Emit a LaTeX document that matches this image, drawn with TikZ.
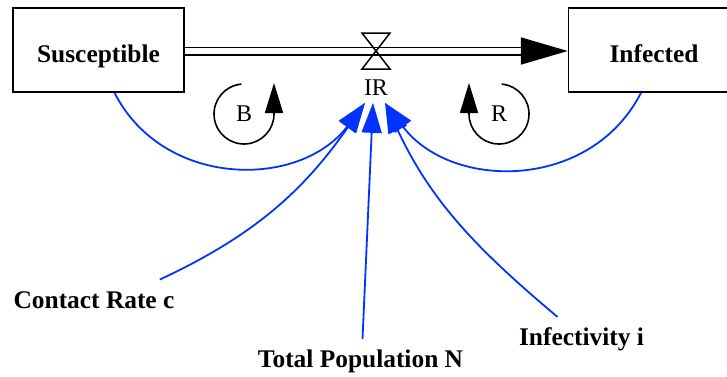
\documentclass[tikz,border=0pt]{standalone}
\usepackage{fontspec}
\setmainfont{Liberation Serif}
\usepackage{xcolor}
\usepackage{tikz}
\usetikzlibrary{positioning,arrows.meta}
\definecolor{linkblue}{RGB}{0,51,255}
\tikzset{
  stockbox/.style={draw, line width=0.75pt, minimum width=85.5pt, minimum height=42pt,
                   text height=12.5pt, text depth=0pt, font=\fontsize{12.7}{15}\selectfont\bfseries},
  varlabel/.style={font=\fontsize{12.7}{15}\selectfont\bfseries, inner sep=3pt},
  flowlabel/.style={font=\fontsize{12}{14}\selectfont, inner sep=0pt, outer ysep=3.5pt},
  looplabel/.style={font=\fontsize{12}{14}\selectfont},
  flowpipe/.style={line width=0.9pt, double=white, double distance=2.7pt,
                   -{Triangle[length=23.5pt, width=13.5pt]}},
  valveshape/.style={line width=0.75pt},
  linkarrow/.style={-{Triangle[length=15pt, width=10pt]}, line width=0.9pt, linkblue},
  looparrow/.style={-{Triangle[length=15pt, width=9pt]}, line width=0.8pt},
}

\begin{document}
\begin{tikzpicture}[x=0.5pt, y=0.5pt, node distance=191.5pt]
  \useasboundingbox (0,0) rectangle (727,-376);
  \node[stockbox]              (S)  at (98.5,-50) {Susceptible};
  \node[stockbox, right=of S]  (I)  {Infected};
  \coordinate                  (valve) at (376,-51);
  \node[flowlabel]             (IR) at (376,-88) {IR};
  \node[looplabel]             (B)  at (244,-114) {B};
  \node[looplabel]             (R)  at (499,-114) {R};
  \node[varlabel]              (CR) at (94,-300.5) {Contact Rate c};
  \node[varlabel]              (TP) at (360.5,-361) {Total Population N};
  \node[varlabel]              (IN) at (581.5,-339) {Infectivity i};
  % flow pipe with valve
  \draw[flowpipe] ([yshift=-0.5pt]S.east) -- ([yshift=-0.5pt]I.west);
  \draw[valveshape] (valve) ++(-14,18) -- ++(28,0) -- ++(-28,-36) -- ++(28,0) -- cycle;
  % links into the flow rate
  \draw[linkarrow] ([xshift=8pt]S.south) to[out=-63, in=-127, looseness=1.1] ([xshift=-5.5pt]IR.south);
  \draw[linkarrow] ([xshift=-10.5pt, yshift=3pt]CR.north east) to[out=25, in=-125] ([xshift=-5.5pt]IR.south);
  \draw[linkarrow] ([xshift=1pt, yshift=2pt]TP.north) -- ([xshift=-1.5pt]IR.south);
  \draw[linkarrow] ([xshift=-12pt, yshift=2pt]IN.north) to[out=140, in=-65] ([xshift=4.5pt]IR.south);
  \draw[linkarrow] ([xshift=-6.5pt]I.south) to[out=-117, in=-53, looseness=1.1] ([xshift=4.5pt]IR.south);
  % loop markers
  \draw[looparrow] (B) ++(95:15pt) arc[start angle=95, end angle=360, radius=15pt] -- ++(0,31);
  \draw[looparrow] (R) ++(85:15pt) arc[start angle=85, end angle=-180, radius=15pt] -- ++(0,31);
\end{tikzpicture}
\end{document}
